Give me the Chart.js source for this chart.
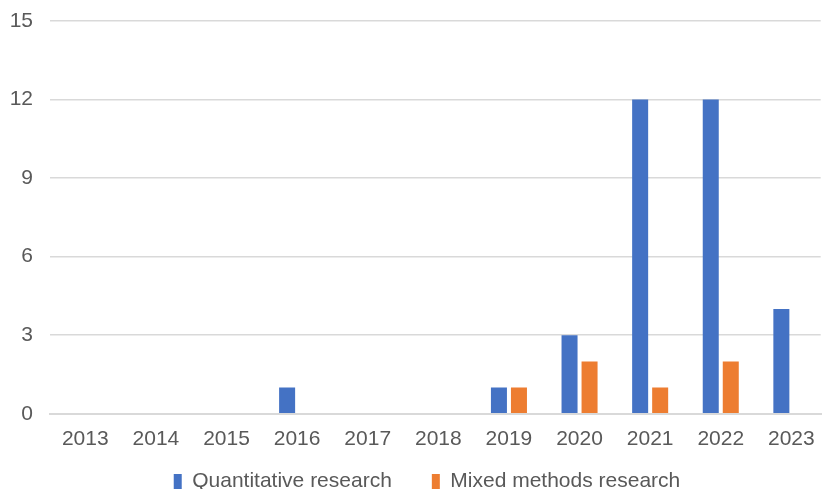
<!DOCTYPE html>
<html>
<head>
<meta charset="utf-8">
<script src="https://cdn.jsdelivr.net/npm/chart.js@4"></script>
<style>
  html, body { margin: 0; padding: 0; background: #fff; }
  #wrap { width: 822px; height: 489px; }
</style>
</head>
<body>
<div id="wrap"><canvas id="chart" width="822" height="489"></canvas></div>
<script>
// years on the x axis
const years = ['2013', '2014', '2015', '2016', '2017', '2018', '2019', '2020', '2021', '2022', '2023'];
// counts per year, null where no bar is drawn
const quantitative = [null, null, null, 1, null, null, 1, 3, 12, 12, 4];
const mixedMethods = [null, null, null, null, null, null, 1, 2, 1, 2, null];
const yTicks = [0, 3, 6, 9, 12, 15];

const font = { family: 'Liberation Sans', size: 21 };
const textColor = '#595959';
const gridColor = '#D9D9D9';

// legend padding also sets the gap between items; raise the top of the legend
// box afterwards so the wide item gap does not push the row off the bottom.
// The source chart is cropped on the right, so the x scale runs a bit past the edge.
const layoutTweak = {
    id: 'layoutTweak',
    afterLayout(chart) {
        const lg = chart.legend;
        lg.top -= 34;
        lg.left += 16;
        lg.right += 16;
        const x = chart.scales.x;
        x.right += 6;
        x.width += 6;
        x.configure();
    },
};

const ctx = document.getElementById('chart').getContext('2d');
new Chart(ctx, {
    type: 'bar',
    data: {
        labels: years,
        datasets: [
            {
                label: 'Quantitative research',
                data: quantitative,
                backgroundColor: '#4472C4',
                categoryPercentage: 0.567,
                barPercentage: 0.8,
            },
            {
                label: 'Mixed methods research',
                data: mixedMethods,
                backgroundColor: '#ED7D31',
                categoryPercentage: 0.567,
                barPercentage: 0.8,
            },
        ],
    },
    plugins: [layoutTweak],
    options: {
        responsive: false,
        animation: false,
        layout: { padding: 0 },
        plugins: {
            legend: {
                position: 'bottom',
                maxHeight: 24,
                labels: {
                    boxWidth: 8,
                    boxHeight: 15,
                    padding: 40,
                    color: textColor,
                    font: font,
                },
            },
            tooltip: { enabled: false },
        },
        scales: {
            x: {
                grid: { display: false, drawTicks: false },
                border: { color: gridColor, width: 2 },
                ticks: { color: textColor, padding: 13, font: font },
            },
            y: {
                min: 0,
                max: 15,
                afterBuildTicks: axis => { axis.ticks = yTicks.map(v => ({ value: v })); },
                afterFit: axis => {
                    axis.width = 50;
                    axis.paddingTop = 21;
                    axis.paddingBottom = 0;
                },
                grid: { color: gridColor, lineWidth: 1.5, drawTicks: false },
                border: { display: false },
                ticks: { color: textColor, padding: 17, font: font },
            },
        },
    },
});
</script>
</body>
</html>
